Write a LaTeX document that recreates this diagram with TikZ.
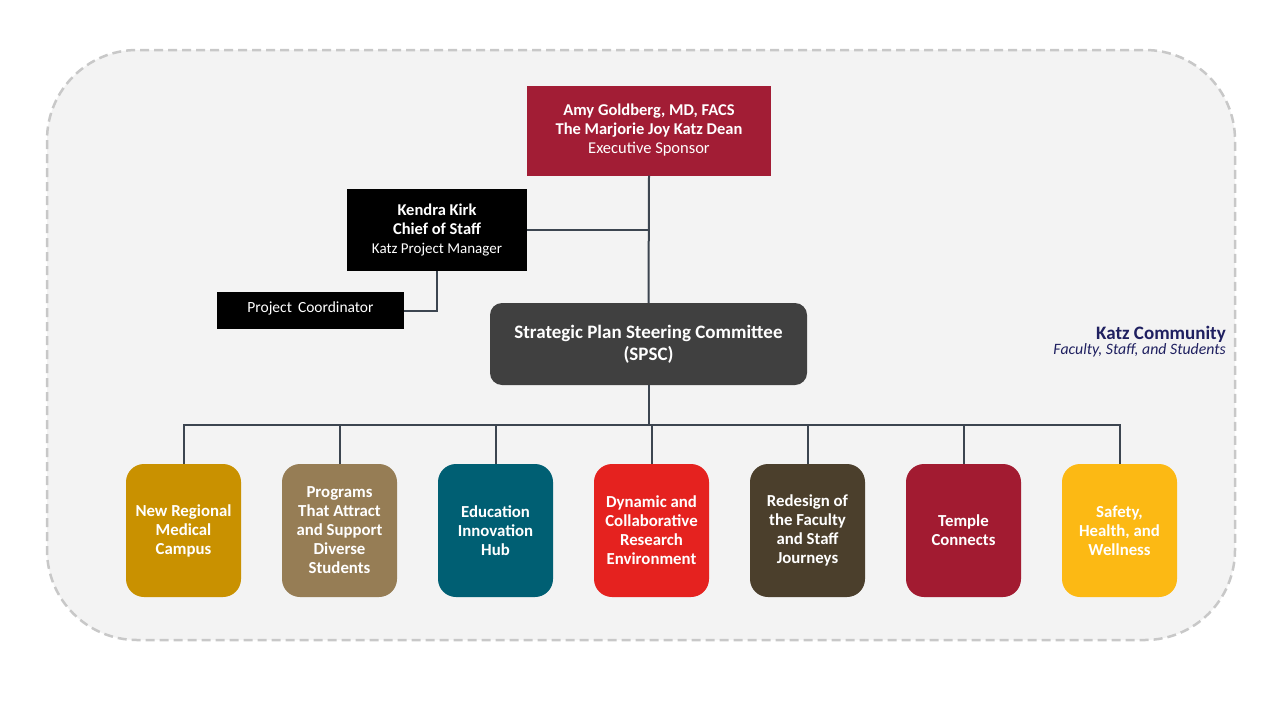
\documentclass[tikz,border=0pt]{standalone}
\usepackage{fontspec}
\setmainfont{Carlito}
\usetikzlibrary{positioning, calc}
\definecolor{panelgray}{HTML}{F3F3F3}
\definecolor{paneldash}{HTML}{C8C8C8}
\definecolor{linkgray}{HTML}{3C4550}
\definecolor{deanred}{HTML}{A21D35}
\definecolor{spscgray}{HTML}{404040}
\definecolor{katznavy}{HTML}{1F2060}
\definecolor{goalgold}{HTML}{C99100}
\definecolor{goaltan}{HTML}{967D55}
\definecolor{goalteal}{HTML}{005F73}
\definecolor{goalred}{HTML}{E5221F}
\definecolor{goalbrown}{HTML}{4B3F2C}
\definecolor{goalcrimson}{HTML}{A21B31}
\definecolor{goalyellow}{HTML}{FCB914}

\begin{document}
\begin{tikzpicture}[x=1pt, y=-1pt,
      leadbox/.style={inner sep=0pt, align=center, text=white,
        font=\fontsize{16.5}{19}\selectfont},
      goalbox/.style={rounded corners=18pt, minimum width=115pt,
        minimum height=133pt, inner sep=0pt, outer sep=0pt,
        align=center, text=white,
        font=\fontsize{16.8}{19}\selectfont\bfseries},
      link/.style={draw=linkgray, line width=2pt}
    ]
      \useasboundingbox (0,0) rectangle (1280,720);
      \draw[fill=panelgray, draw=paneldash, line width=2.5pt,
        dash pattern=on 9pt off 5pt, rounded corners=90pt]
        (47,50) rectangle (1235,640);

      \node[leadbox, fill=deanred, minimum width=244pt, minimum height=90pt]
        (dean) at (649,130.5)
        {\textbf{Amy Goldberg, MD, FACS}\\\textbf{The Marjorie Joy Katz Dean}\\Executive Sponsor};
      \node[leadbox, fill=black, minimum width=180pt, minimum height=82pt]
        (kendra) at (437,229.5)
        {\textbf{Kendra Kirk}\\\textbf{Chief of Staff}\\{\fontsize{15}{19}\selectfont Katz Project Manager}};
      \node[leadbox, fill=black, minimum width=187pt, minimum height=37pt,
        text depth=6pt, font=\fontsize{15.5}{19}\selectfont]
        (coord) at (310.5,310.5) {Project\, Coordinator};
      \node[leadbox, fill=spscgray, rounded corners=12pt, minimum width=317pt,
        minimum height=82pt, font=\fontsize{19}{22}\selectfont\bfseries]
        (spsc) at (648.5,344) {Strategic Plan Steering Committee\\(SPSC)};

      \node[goalbox, fill=goalgold] (campus) at (183.5,530.5)
        {New Regional\\Medical\\Campus};
      \node[goalbox, fill=goaltan, right=41pt of campus] (programs)
        {Programs\\That Attract\\and Support\\Diverse\\Students};
      \node[goalbox, fill=goalteal, right=41pt of programs] (hub)
        {Education\\Innovation\\Hub};
      \node[goalbox, fill=goalred, right=41pt of hub] (research)
        {Dynamic and\\Collaborative\\Research\\Environment};
      \node[goalbox, fill=goalbrown, right=41pt of research] (journeys)
        {Redesign of\\the Faculty\\and Staff\\Journeys};
      \node[goalbox, fill=goalcrimson, right=41pt of journeys] (temple)
        {Temple\\Connects};
      \node[goalbox, fill=goalyellow, right=41pt of temple] (wellness)
        {Safety,\\Health, and\\Wellness};

      \node[text=katznavy, align=right, anchor=east, inner sep=0pt] (katz)
        at (1226,342)
        {\fontsize{19}{21}\selectfont\bfseries Katz Community\\
         \fontsize{15.8}{21}\selectfont\itshape Faculty, Staff, and Students};

      \coordinate (bus) at ($(spsc.south)+(0,40)$);
      \draw[link] (dean.south) -- (spsc.north);
      \draw[link] (kendra.east) -- (kendra.east -| dean.south);
      \draw[link] (kendra.south) |- (coord.east);
      \draw[link] (spsc.south) -- (bus)
        (bus) -| (campus.north) (bus) -| (programs.north)
        (bus) -| (hub.north) (bus) -| (research.north)
        (bus) -| (journeys.north) (bus) -| (temple.north)
        (bus) -| (wellness.north);
    \end{tikzpicture}
\end{document}
